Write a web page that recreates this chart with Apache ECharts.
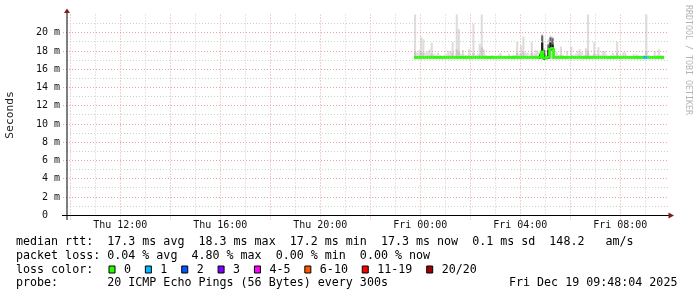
<!DOCTYPE html>
<html><head><meta charset="utf-8">
<script src="https://cdn.jsdelivr.net/npm/echarts@6/dist/echarts.min.js"></script>
<style>html,body{margin:0;padding:0;background:#fff}#c{width:697px;height:297px}</style>
</head><body><div id="c"></div>
<script>
// ---- data (5-minute steps, first step starts Thu 23:45; hours counted from Thu 00:00) ----
const stepStartHour = 23.75;
const stepHours = 1 / 12;

const median = [
 17.3,17.3,17.3,17.3,17.3,17.3,17.3,17.3,17.3,17.3,
 17.3,17.3,17.3,17.3,17.3,17.3,17.3,17.3,17.3,17.3,
 17.3,17.3,17.3,17.3,17.3,17.3,17.3,17.3,17.3,17.3,
 17.3,17.3,17.3,17.3,17.3,17.3,17.3,17.3,17.3,17.3,
 17.3,17.3,17.3,17.3,17.3,17.3,17.3,17.3,17.3,17.3,
 17.3,17.3,17.3,17.3,17.3,17.3,17.3,17.3,17.3,17.3,
 17.3,17.9,17.2,17.2,17.3,18.2,18.3,17.3,17.3,17.3,
 17.3,17.3,17.3,17.3,17.3,17.3,17.3,17.3,17.3,17.3,
 17.3,17.3,17.3,17.3,17.3,17.3,17.3,17.3,17.3,17.3,
 17.3,17.3,17.3,17.3,17.3,17.3,17.3,17.3,17.3,17.3,
 17.3,17.3,17.3,17.3,17.3,17.3,17.3,17.3,17.3,17.3,
 17.3,17.3,17.3,17.3,17.3,17.3,17.3,17.3,17.3,17.3
];
const smokeLow = [
 17.1,17.1,17.1,17.1,17.1,17.1,17.1,17.1,17.1,17.1,
 17.1,17.1,17.1,17.1,17.1,17.1,17.1,17.1,17.1,17.1,
 17.1,17.1,17.1,17.1,17.1,17.1,17.1,17.1,17.1,17.1,
 17.1,17.1,17.1,17.1,17.1,17.1,17.1,17.1,17.1,17.1,
 17.1,17.1,17.1,17.1,17.1,17.1,17.1,17.1,17.1,17.1,
 17.1,17.1,17.1,17.1,17.1,17.1,17.1,17.1,17.1,17.1,
 17.1,17.1,17.1,17.1,17.1,17.1,17.1,17.1,17.1,17.1,
 17.1,17.1,17.1,17.1,17.1,17.1,17.1,17.1,17.1,17.1,
 17.1,17.1,17.1,17.1,17.1,17.1,17.1,17.1,17.1,17.1,
 17.1,17.1,17.1,17.1,17.1,17.1,17.1,17.1,17.1,17.1,
 17.1,17.1,17.1,17.1,17.1,17.1,17.1,17.1,17.1,17.1,
 17.1,17.1,17.1,17.1,17.1,17.1,17.1,17.1,17.1,17.1
];
const smokeMid = [
 18.0,17.45,17.5,17.9,17.8,17.45,17.5,17.5,17.7,17.45,
 17.45,17.45,17.45,17.45,17.45,17.45,17.5,17.5,17.8,17.45,
 18.2,18.0,17.45,17.5,17.45,17.45,17.5,17.45,17.8,17.45,
 17.45,17.6,18.4,17.5,17.45,17.45,17.45,17.45,17.45,17.45,
 17.45,17.5,17.45,17.45,17.45,17.45,17.45,17.45,17.45,17.8,
 17.45,17.7,17.9,17.5,17.45,17.45,17.8,17.45,17.5,17.45,
 17.5,17.9,17.6,17.45,17.8,18.4,18.5,17.45,17.45,17.45,
 17.6,17.45,17.45,17.45,17.45,17.6,17.45,17.45,17.5,17.6,
 17.45,17.45,17.6,18.0,17.45,17.45,17.7,17.45,17.6,17.45,
 17.5,17.5,17.45,17.45,17.45,17.45,17.45,17.8,17.45,17.45,
 17.5,17.5,17.45,17.45,17.45,17.45,17.45,17.45,17.45,17.45,
 17.45,18.0,17.45,17.45,17.45,17.5,17.45,17.5,17.45,17.45
];
const smokeHigh = [
 23.0,17.8,18.1,19.5,19.3,17.8,18.0,18.2,18.9,17.7,
 17.6,17.8,17.6,17.5,17.6,17.7,18.0,18.0,19.0,17.6,
 23.0,20.4,17.7,18.1,17.6,17.6,18.2,17.6,21.0,17.6,
 17.7,18.8,23.0,18.2,17.6,17.5,17.5,17.6,17.5,17.5,
 17.6,17.8,17.5,17.5,17.5,17.7,17.5,17.6,17.6,19.0,
 17.7,18.6,19.6,17.8,17.8,17.6,19.0,17.7,18.1,17.9,
 17.8,19.9,18.3,17.6,19.3,19.7,19.6,17.6,17.9,17.6,
 18.5,17.6,17.5,18.0,17.5,18.5,17.6,17.7,18.0,18.2,
 17.9,17.6,18.3,23.0,17.6,17.6,19.0,17.7,18.4,17.6,
 18.0,18.0,17.6,17.5,17.6,17.8,17.6,19.0,17.6,17.6,
 17.9,17.8,17.5,17.5,17.5,17.7,17.6,17.6,17.5,17.5,
 17.6,23.0,17.6,17.5,17.5,18.0,17.6,18.2,17.6,17.5
];
const lostPings = [
 0,0,0,0,0,0,0,0,0,0, 0,0,0,0,0,0,0,0,0,0,
 0,0,0,0,0,0,0,0,0,0, 0,0,0,0,0,0,0,0,0,0,
 0,0,0,0,0,0,0,0,0,0, 0,0,0,0,0,0,0,0,0,0,
 0,0,0,0,0,0,0,0,0,0, 0,0,0,0,0,0,0,0,0,0,
 0,0,0,0,0,0,0,0,0,0, 0,0,0,0,0,0,0,0,0,0,
 0,0,0,0,0,0,0,0,0,0, 1,1,0,0,0,0,0,0,0,0
];
// dense (dark) smoke during the two latency bumps
const spikeSteps = [60, 61, 62, 64, 65, 66];
const spikeOuter = [17.7, 19.7, 18.1, 18.7, 19.5, 19.4];
const spikeCore  = [17.5, 18.9, 17.8, 18.1, 18.9, 18.7];

const xTickHours  = [12, 16, 20, 24, 28, 32];
const xTickLabels = ['Thu 12:00', 'Thu 16:00', 'Thu 20:00', 'Fri 00:00', 'Fri 04:00', 'Fri 08:00'];
const xMajorGrid  = [10, 12, 14, 16, 18, 20, 22, 24, 26, 28, 30, 32];
const xMinorGrid  = [11, 13, 15, 17, 19, 21, 23, 25, 27, 29, 31, 33];
const yTicks      = [0, 2, 4, 6, 8, 10, 12, 14, 16, 18, 20];
const yMinorGrid  = [1, 3, 5, 7, 9, 11, 13, 15, 17, 19, 21];

const lossBuckets = ['0', '1', '2', '3', '4-5', '6-10', '11-19', '20/20'];
const lossColors  = ['#26ff00', '#00b8ff', '#0059ff', '#7e00ff', '#ff00ff', '#ff5500', '#ff0000', '#a10000'];

const legendLines = [
  'median rtt:  17.3 ms avg  18.3 ms max  17.2 ms min  17.3 ms now  0.1 ms sd  148.2   am/s',
  'packet loss: 0.04 % avg  4.80 % max  0.00 % min  0.00 % now',
  'loss color:',
  'probe:       20 ICMP Echo Pings (56 Bytes) every 300s'
];
const stampText = 'Fri Dec 19 09:48:04 2025';
const watermark = 'RRDTOOL / TOBI OETIKER';

// ---- layout ----
const X_MIN = 9.868, X_MAX = 33.948, Y_MAX = 22;
const MONO = '"DejaVu Sans Mono", monospace';
const LEG_FS = 11.66, CH = 7.02;

function lossIndex(n) {
  if (n <= 3) return n;
  if (n <= 5) return 4;
  if (n <= 10) return 5;
  if (n <= 19) return 6;
  return 7;
}

const stepTime = i => stepStartHour + i * stepHours;

const smokeData = smokeHigh.map((h, i) => [stepTime(i), smokeLow[i], smokeMid[i], h]);
const spikeData = spikeSteps.map((s, k) => [stepTime(s), median[s], spikeCore[k], spikeOuter[k]]);
const medianData = median.map((m, i) => [stepTime(i), m, i === 0 ? m : median[i - 1], lostPings[i]]);
const gridData = [];
xMajorGrid.forEach(h => gridData.push([h, 0, 1, 0]));
xMinorGrid.forEach(h => gridData.push([h, 0, 0, 0]));
yTicks.filter(v => v > 0).forEach(v => gridData.push([X_MIN, v, 1, 1]));
yMinorGrid.forEach(v => gridData.push([X_MIN, v, 0, 1]));

const chart = echarts.init(document.getElementById('c'), null, {renderer: 'canvas'});

const graphics = [];
graphics.push({type: 'line', z: 50, shape: {x1: 67, y1: 220, x2: 67, y2: 12}, style: {stroke: '#000', lineWidth: 1}});
graphics.push({type: 'line', z: 50, shape: {x1: 62, y1: 215.5, x2: 669, y2: 215.5}, style: {stroke: '#000', lineWidth: 1}});
graphics.push({type: 'polygon', z: 51, shape: {points: [[64, 13], [70, 13], [67, 8.5]]}, style: {fill: '#7f1d1d'}});
graphics.push({type: 'polygon', z: 51, shape: {points: [[668.5, 212.5], [668.5, 218.5], [674, 215.5]]}, style: {fill: '#7f1d1d'}});
const rowY = [242, 255.7, 269.5, 283.3];
legendLines.forEach((t, k) => {
  graphics.push({type: 'text', z: 50, x: 16, y: rowY[k], style: {text: t, font: LEG_FS + 'px ' + MONO, fill: '#000', align: 'left', verticalAlign: 'middle'}});
});
graphics.push({type: 'text', z: 50, x: 509, y: rowY[3], style: {text: stampText, font: LEG_FS + 'px ' + MONO, fill: '#000', align: 'left', verticalAlign: 'middle'}});
let lx = 108.7;
lossBuckets.forEach((lab, k) => {
  graphics.push({type: 'rect', z: 50, shape: {x: lx + 0.3, y: 266, width: 6, height: 7}, style: {fill: lossColors[k], stroke: '#000', lineWidth: 1}});
  graphics.push({type: 'text', z: 50, x: lx + 15.3, y: rowY[2], style: {text: lab, font: LEG_FS + 'px ' + MONO, fill: '#000', align: 'left', verticalAlign: 'middle'}});
  lx += 15.3 + (lab.length + 2) * CH;
});
graphics.push({type: 'text', z: 50, x: 688, y: 60, rotation: -Math.PI / 2, style: {text: watermark, font: '8.3px ' + MONO, fill: '#b4b4b4', align: 'center', verticalAlign: 'middle'}});

const option = {
  animation: false,
  backgroundColor: '#fff',
  grid: {left: 67, right: 28, top: 14.5, bottom: 81.7, containLabel: false, outerBoundsMode: 'none'},
  xAxis: {
    type: 'value', min: X_MIN, max: X_MAX,
    axisLine: {show: false}, axisTick: {show: false}, splitLine: {show: false},
    axisLabel: {
      customValues: xTickHours, margin: 5,
      fontFamily: MONO, fontSize: 10, color: '#111',
      formatter: v => xTickLabels[xTickHours.indexOf(v)] || ''
    }
  },
  yAxis: {
    type: 'value', min: 0, max: Y_MAX, interval: 2,
    axisLine: {show: false}, axisTick: {show: false}, splitLine: {show: false},
    name: 'Seconds', nameLocation: 'middle', nameGap: 51,
    nameTextStyle: {fontFamily: MONO, fontSize: 11.3, color: '#222'},
    axisLabel: {
      customValues: yTicks, margin: 7,
      fontFamily: MONO, fontSize: 10, color: '#111',
      formatter: v => v === 0 ? '0  ' : v + ' m'
    }
  },
  series: [
    {
      type: 'custom', name: 'smoke', z: 2, clip: true, silent: true,
      data: smokeData,
      renderItem: (params, api) => {
        const t = api.value(0);
        const a = api.coord([t, api.value(1)]);
        const m = api.coord([t, api.value(2)]);
        const b = api.coord([t + stepHours, api.value(3)]);
        return {type: 'group', children: [
          {type: 'rect', shape: {x: a[0], y: b[1], width: b[0] - a[0], height: a[1] - b[1]}, style: {fill: '#dddddd'}},
          {type: 'rect', shape: {x: a[0], y: m[1], width: b[0] - a[0], height: a[1] - m[1]}, style: {fill: '#c6c6c6'}}
        ]};
      }
    },
    {
      type: 'custom', name: 'dense smoke', z: 3, clip: true, silent: true,
      data: spikeData,
      renderItem: (params, api) => {
        const t = api.value(0);
        const a = api.coord([t, api.value(1) - 0.15]);
        const c = api.coord([t + stepHours, api.value(2)]);
        const o = api.coord([t + stepHours, api.value(3)]);
        return {type: 'group', children: [
          {type: 'rect', shape: {x: a[0], y: o[1], width: o[0] - a[0], height: a[1] - o[1]}, style: {fill: '#666666'}},
          {type: 'rect', shape: {x: a[0], y: c[1], width: c[0] - a[0], height: a[1] - c[1]}, style: {fill: '#1a1a1a'}}
        ]};
      }
    },
    {
      type: 'custom', name: 'grid', z: 4, clip: false, silent: true,
      data: gridData,
      renderItem: (params, api) => {
        const cs = params.coordSys;
        const major = api.value(2) === 1;
        const color = major ? '#eba4a4' : '#cfcfcf';
        if (api.value(3) === 0) {
          const x = Math.floor(api.coord([api.value(0), 0])[0]) + 0.5;
          return {type: 'line', shape: {x1: x, y1: cs.y, x2: x, y2: cs.y + cs.height + (major ? 5 : 0)},
            style: {stroke: color, lineWidth: 1, lineDash: [1, 2]}};
        }
        const y = Math.floor(api.coord([X_MIN, api.value(1)])[1]) + 0.5;
        return {type: 'line', shape: {x1: cs.x - (major ? 4 : 0), y1: y, x2: cs.x + cs.width, y2: y},
          style: {stroke: color, lineWidth: 1, lineDash: [1, 2]}};
      }
    },
    {
      type: 'custom', name: 'median', z: 5, clip: true, silent: true,
      data: medianData,
      renderItem: (params, api) => {
        const t = api.value(0);
        const p0 = api.coord([t, api.value(2)]);
        const p1 = api.coord([t, api.value(1)]);
        const p2 = api.coord([t + stepHours, api.value(1)]);
        return {type: 'polyline', shape: {points: [p0, p1, p2]},
          style: {stroke: lossColors[lossIndex(api.value(3))], lineWidth: 2.6, fill: null, lineCap: 'butt', lineJoin: 'miter'}};
      }
    }
  ],
  graphic: graphics
};
chart.setOption(option);
</script>
</body></html>
